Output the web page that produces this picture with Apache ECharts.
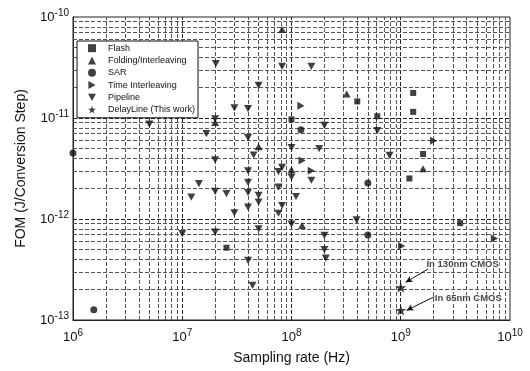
<!DOCTYPE html>
<html><head><meta charset="utf-8">
<script src="https://cdn.jsdelivr.net/npm/echarts@6/dist/echarts.min.js"></script>
<style>html,body{margin:0;padding:0;background:#fff}#c{width:530px;height:371px}</style>
</head><body><div id="c"></div>
<script>
// ---- data ----
const seriesNames = ['Flash','Folding/Interleaving','SAR','Time Interleaving','Pipeline','DelayLine (This work)'];

const flashX = [4.0e8, 1.3e9, 1.3e9, 6.1e8, 1.0e8, 1.6e9, 1.2e9, 2.54e7, 3.5e9];
const flashY = [1.46e-11, 1.77e-11, 1.15e-11, 1.04e-11, 9.7e-12, 4.4e-12, 2.52e-12, 5.2e-13, 9.1e-13];

const foldX = [8.2e7, 3.2e8, 2.0e7, 5.0e7, 1.6e9, 1.0e8, 1.25e8];
const foldY = [7.5e-11, 1.73e-11, 9.0e-12, 5.2e-12, 3.15e-12, 3.08e-12, 8.6e-13];

const sarX = [1.0e6, 1.22e8, 5.0e8, 5.0e8, 1.55e6];
const sarY = [4.5e-12, 7.66e-12, 2.27e-12, 6.95e-13, 1.26e-13];

const tiX = [1.22e8, 2.0e9, 1.25e8, 1.52e8, 1.02e9, 7.2e9];
const tiY = [1.32e-11, 5.96e-12, 3.8e-12, 3.0e-12, 5.4e-13, 6.4e-13];

const pipeX = [5.0e6, 2.03e7, 8.2e7, 1.52e8, 5.0e7, 3.0e7, 4.0e7, 2.0e7, 1.66e7, 4.0e7,
               1.0e8, 4.5e7, 2.0e7, 8.2e7, 2.0e8, 6.1e8, 1.79e8, 7.9e8, 7.6e7, 4.0e7,
               1.0e8, 1.52e8, 7.6e7, 1.42e7, 4.0e7, 1.21e7, 2.0e7, 2.54e7, 4.0e7, 5.0e7,
               5.0e7, 4.0e7, 3.0e7, 8.2e7, 7.6e7, 1.1e8, 1.0e8, 1.0e7, 2.0e7, 5.0e7,
               4.0e7, 4.4e7, 3.94e8, 2.0e8, 2.0e8, 2.06e8];
const pipeY = [8.7e-12, 3.45e-11, 3.24e-11, 3.24e-11, 2.1e-11, 1.26e-11, 1.24e-11, 9.8e-12, 7.0e-12, 6.4e-12,
               5.1e-12, 4.3e-12, 3.85e-12, 3.25e-12, 8.45e-12, 7.5e-12, 4.97e-12, 4.26e-12, 2.95e-12, 3.0e-12,
               2.6e-12, 2.42e-12, 2.07e-12, 2.24e-12, 2.3e-12, 1.65e-12, 1.88e-12, 1.78e-12, 1.83e-12, 1.71e-12,
               1.47e-12, 1.31e-12, 1.15e-12, 1.36e-12, 1.14e-12, 1.67e-12, 8.9e-13, 7.15e-13, 7.4e-13, 8.0e-13,
               3.9e-13, 2.2e-13, 9.8e-13, 6.9e-13, 4.97e-13, 4.1e-13];

const delayX = [1.0e9, 1.0e9];
const delayY = [2.1e-13, 1.25e-13];

// annotations
const noteText = ['In 130nm CMOS', 'In 65nm CMOS'];
const noteX = [1.72e9, 2.05e9];
const noteY = [3.53e-13, 1.65e-13];
const arrowFromX = [1.78e9, 2.05e9];
const arrowFromY = [3.2e-13, 1.71e-13];
const arrowToX = [1.107e9, 1.13e9];
const arrowToY = [2.36e-13, 1.245e-13];

// axes
const xMin = 1e6, xMax = 1e10;
const yMin = 1e-13, yMax = 1e-10;
const xDecades = [1e6, 1e7, 1e8, 1e9];
const yDecades = [1e-13, 1e-12, 1e-11];
const gridMult = [1, 2, 3, 4, 5, 6, 7, 8, 9];

// ---- chart ----
const FONT = "'Liberation Sans', Arial, Helvetica, sans-serif";
const zip = (xs, ys) => xs.map((x, i) => [x, ys[i]]);

const gridLines = [];
xDecades.forEach(d => gridMult.forEach(m => {
  if (d === xMin && m === 1) return;
  gridLines.push({ xAxis: d * m, lineStyle: { color: m === 1 ? '#222' : '#555' } });
}));
yDecades.forEach(d => gridMult.forEach(m => {
  if (d === yMin && m === 1) return;
  gridLines.push({ yAxis: d * m, lineStyle: { color: m === 1 ? '#222' : '#555' } });
}));

const STAR = 'path://M0,-10 L2.35,-3.24 L9.51,-3.09 L3.8,1.24 L5.88,8.09 L0,4 L-5.88,8.09 L-3.8,1.24 L-9.51,-3.09 L-2.35,-3.24 Z';
const DOWN = 'path://M0,0 L10,0 L5,9 Z';
const RIGHT = 'path://M0,0 L9,5 L0,10 Z';
const INK = '#111';

const supLabel = v => '{b|10}{s|' + Math.round(Math.log10(v)) + '}';
const labelRich = {
  b: { fontFamily: FONT, fontSize: 13, color: INK },
  s: { fontFamily: FONT, fontSize: 10, color: INK, padding: [0, 0, 8, 0] }
};

const chart = echarts.init(document.getElementById('c'), null, { renderer: 'canvas' });
chart.setOption({
  animation: false,
  backgroundColor: '#fff',
  grid: { left: 73, right: 20, top: 17, bottom: 51, show: true, borderColor: '#222', borderWidth: 1, backgroundColor: 'transparent' },
  xAxis: {
    type: 'log', logBase: 10, min: xMin, max: xMax, splitNumber: 4,
    name: 'Sampling rate (Hz)', nameLocation: 'middle', nameGap: 31,
    nameTextStyle: { fontFamily: FONT, fontSize: 14, color: INK },
    axisLine: { show: true, lineStyle: { color: '#222' } },
    axisTick: { show: false },
    splitLine: { show: false },
    axisLabel: { formatter: supLabel, rich: labelRich, margin: 8, showMinLabel: true, showMaxLabel: true }
  },
  yAxis: {
    type: 'log', logBase: 10, min: yMin, max: yMax, splitNumber: 3,
    name: 'FOM (J/Conversion Step)', nameLocation: 'middle', nameGap: 45,
    nameTextStyle: { fontFamily: FONT, fontSize: 14, color: INK },
    axisLine: { show: true, lineStyle: { color: '#222' } },
    axisTick: { show: false },
    splitLine: { show: false },
    axisLabel: { formatter: supLabel, rich: labelRich, margin: 4, showMinLabel: true, showMaxLabel: true }
  },
  legend: {
    data: seriesNames, orient: 'vertical', left: 77, top: 41, z: 20,
    backgroundColor: '#fff', borderColor: '#111', borderWidth: 1, borderRadius: 0,
    padding: [1, 3, 2, 11], itemWidth: 8, itemHeight: 8, itemGap: 0,
    selectedMode: false,
    formatter: n => '{p| }' + n,
    textStyle: { fontFamily: FONT, fontSize: 9, color: INK, lineHeight: 12.3, rich: { p: { width: 7 } } }
  },
  series: [
    { type: 'scatter', name: '_grid', data: [], silent: true, z: 1,
      markLine: { silent: true, z: 1, precision: 20, symbol: ['none', 'none'], label: { show: false },
        lineStyle: { type: [4, 2], width: 1, color: '#555' }, data: gridLines, animation: false } },
    { type: 'scatter', name: seriesNames[0], data: zip(flashX, flashY), symbol: 'rect', symbolSize: 6, itemStyle: { color: INK }, z: 5 },
    { type: 'scatter', name: seriesNames[1], data: zip(foldX, foldY), symbol: 'triangle', symbolSize: [8, 7], itemStyle: { color: INK }, z: 5 },
    { type: 'scatter', name: seriesNames[2], data: zip(sarX, sarY), symbol: 'circle', symbolSize: 7, itemStyle: { color: INK }, z: 5 },
    { type: 'scatter', name: seriesNames[3], data: zip(tiX, tiY), symbol: RIGHT, symbolSize: 8, symbolKeepAspect: true, itemStyle: { color: INK }, z: 5 },
    { type: 'scatter', name: seriesNames[4], data: zip(pipeX, pipeY), symbol: DOWN, symbolSize: 8, symbolKeepAspect: true, itemStyle: { color: INK }, z: 5 },
    { type: 'scatter', name: seriesNames[5], data: zip(delayX, delayY), symbol: STAR, symbolSize: 11, symbolKeepAspect: true, itemStyle: { color: INK }, z: 6 },
    { type: 'scatter', name: '_notes', silent: true, z: 7, symbolSize: 0,
      data: noteText.map((t, i) => ({ value: [noteX[i], noteY[i]], name: t })),
      label: { show: true, position: 'right', distance: 0, formatter: p => p.name,
        fontFamily: FONT, fontSize: 9.5, fontWeight: 'bold', color: INK,
        textBorderColor: '#fff', textBorderWidth: 2 },
      markLine: { silent: true, precision: 20, symbol: ['none', 'arrow'], symbolSize: [5, 7], label: { show: false },
        lineStyle: { type: 'solid', width: 1, color: INK },
        data: arrowFromX.map((x, i) => [{ coord: [x, arrowFromY[i]] }, { coord: [arrowToX[i], arrowToY[i]] }]) } }
  ]
});
</script></body></html>
